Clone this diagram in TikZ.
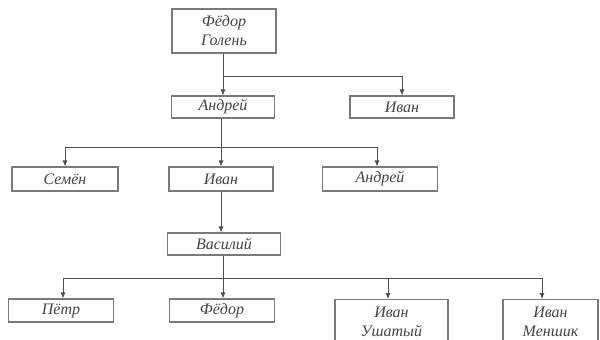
\documentclass[tikz,border=0pt]{standalone}
\usepackage{fontspec}
\setmainfont{Liberation Serif}
\usetikzlibrary{arrows.meta}
\definecolor{boxc}{HTML}{7A7A7A}
\definecolor{linec}{HTML}{505050}
\definecolor{txtc}{HTML}{444444}
\tikzset{
  person/.style={draw=boxc, line width=1.1pt, fill=white, inner sep=0pt,
    text=txtc, font=\fontsize{16}{19}\selectfont\itshape, align=center},
  conn/.style={draw=linec, line width=0.8pt, -{Latex[length=6pt,width=5pt]}},
  plain/.style={draw=linec, line width=0.8pt}
}
\begin{document}
\begin{tikzpicture}[x=1pt,y=-1pt]
\useasboundingbox (0,0) rectangle (600,340);
\clip (0,0) rectangle (600,340);
\fill[white] (0,0) rectangle (600,340);
% row 0
\node[person, minimum width=104pt, minimum height=44pt] (fg) at (224,31) {Фёдор\\Голень};
% row 1
\node[person, minimum width=103pt, minimum height=22pt] (a1) at (223,107) {Андрей};
\node[person, minimum width=104pt, minimum height=22pt] (i1) at (402,107) {Иван};
% row 2
\node[person, minimum width=106pt, minimum height=24pt] (s2) at (65,179) {Семён};
\node[person, minimum width=104pt, minimum height=24pt] (i2) at (221,179) {Иван};
\node[person, minimum width=115pt, minimum height=24pt] (a2) at (380,179) {Андрей};
% row 3
\node[person, minimum width=113pt, minimum height=22pt] (v3) at (224,244) {Василий};
% row 4
\node[person, minimum width=105pt, minimum height=23pt] (p4) at (61,310.5) {Пётр};
\node[person, minimum width=105pt, minimum height=23pt] (f4) at (222,310.5) {Фёдор};
\node[person, minimum width=113pt, minimum height=44pt, anchor=north] (u4) at (391.5,299) {Иван\\Ушатый};
\node[person, minimum width=95pt, minimum height=44pt, anchor=north] (m4) at (550.5,299) {Иван\\Меншик};
% junctions
\coordinate (j0) at (223,76);
\coordinate (j1) at (221,147);
\coordinate (j3) at (223,278);
% connectors
\draw[conn] (fg.south -| j0) -- (a1.north -| j0);
\draw[conn] (j0) -| (i1.north);
\draw[conn] (a1.south -| j1) -- (i2.north -| j1);
\draw[conn] (j1) -| (s2.north);
\draw[conn] (j1) -| ([xshift=-3pt]a2.north);
\draw[conn] (i2.south) -- (v3.north -| i2.south);
\draw[conn] (v3.south -| j3) -- (f4.north -| j3);
\draw[conn] (j3) -| ([xshift=2pt]p4.north);
\draw[conn] (j3) -| ([xshift=-3.5pt]u4.north);
\draw[conn] (j3) -| ([xshift=-8.5pt]m4.north);
\end{tikzpicture}
\end{document}
